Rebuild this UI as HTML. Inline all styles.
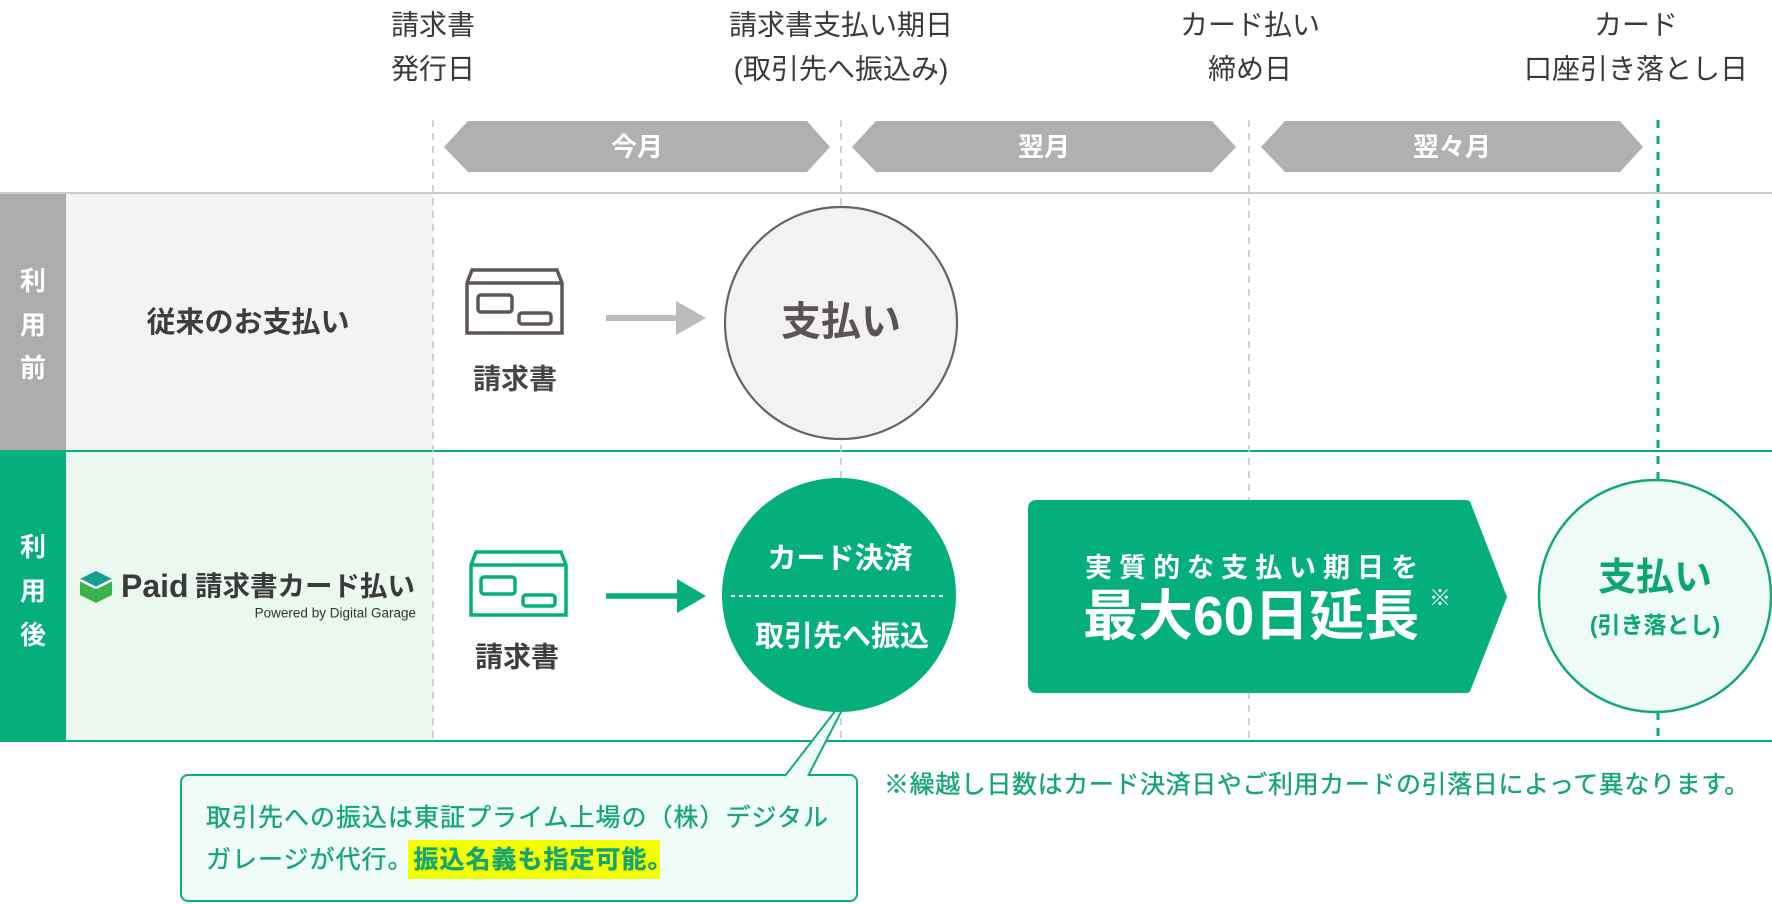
<!DOCTYPE html>
<html><head><meta charset="utf-8"><style>
html,body{margin:0;padding:0;background:#fff;}
svg{display:block;}
text{font-family:"Liberation Sans","Noto Sans CJK JP",sans-serif;}
</style></head><body>
<svg width="1772" height="904" viewBox="0 0 1772 904" xmlns="http://www.w3.org/2000/svg">
<!-- header labels -->
<g fill="#3a3a3a" font-size="28" text-anchor="middle" dominant-baseline="central">
<text x="433" y="25">請求書</text>
<text x="433" y="69">発行日</text>
<text x="841" y="25">請求書支払い期日</text>
<text x="841" y="69">(取引先へ振込み)</text>
<text x="1250" y="25">カード払い</text>
<text x="1250" y="69">締め日</text>
<text x="1636" y="25">カード</text>
<text x="1636" y="69">口座引き落とし日</text>
</g>
<!-- month hexagons -->
<g fill="#b0b0b0">
<polygon points="468,121 807,121 830,147 807,172 468,172 444,147"/>
<polygon points="876,121 1212,121 1236,147 1212,172 876,172 852,147"/>
<polygon points="1285,121 1620,121 1643,147 1620,172 1285,172 1261,147"/>
</g>
<g fill="#fff" font-size="26" font-weight="bold" text-anchor="middle" dominant-baseline="central">
<text x="637" y="147">今月</text>
<text x="1044" y="147">翌月</text>
<text x="1452" y="147">翌々月</text>
</g>
<!-- row backgrounds -->
<rect x="0" y="194" width="66" height="257" fill="#acacac"/>
<rect x="66" y="194" width="367" height="257" fill="#f3f3f3"/>
<rect x="0" y="452" width="66" height="289" fill="#05af7b"/>
<rect x="66" y="452" width="367" height="289" fill="#eaf8f0"/>
<!-- row lines -->
<line x1="0" y1="193" x2="1772" y2="193" stroke="#cccccc" stroke-width="2"/>
<line x1="0" y1="451" x2="1772" y2="451" stroke="#0cae7c" stroke-width="2"/>
<line x1="0" y1="741" x2="1772" y2="741" stroke="#0cae7c" stroke-width="2"/>
<!-- dashed verticals -->
<g stroke="#c6c6c6" stroke-width="1.6" stroke-dasharray="7 6">
<line x1="433" y1="120" x2="433" y2="740"/>
<line x1="841" y1="120" x2="841" y2="740"/>
<line x1="1249" y1="120" x2="1249" y2="740"/>
</g>
<line x1="1658" y1="120" x2="1658" y2="741" stroke="#0aae79" stroke-width="3" stroke-dasharray="8 8"/>
<!-- vertical labels -->
<g fill="#fff" font-size="26" font-weight="bold" text-anchor="middle" dominant-baseline="central">
<text x="33" y="281">利</text>
<text x="33" y="325">用</text>
<text x="33" y="368">前</text>
<text x="33" y="547">利</text>
<text x="33" y="591">用</text>
<text x="33" y="635">後</text>
</g>
<text x="248" y="323" fill="#3d3d3d" font-size="29" font-weight="bold" text-anchor="middle" dominant-baseline="central">従来のお支払い</text>
<!-- logo -->
<g>
<polygon points="96,571 112,579 112,595 96,603 80,595 80,579" fill="#3ab54a"/>
<polygon points="96,571 112,579 96,587 80,579" fill="#179f8c"/>
<polyline points="80,580 96,588 112,580" fill="none" stroke="#fff" stroke-width="2.5"/>
<line x1="96" y1="588" x2="96" y2="603" stroke="#2fa84a" stroke-width="1"/>
</g>
<text x="121" y="586" fill="#3a3a3a" font-size="32" font-weight="bold" dominant-baseline="central">Paid</text>
<text x="195" y="586" fill="#3a3a3a" font-size="27.5" font-weight="bold" dominant-baseline="central">請求書カード払い</text>
<text x="416" y="613" fill="#333" font-size="13.5" text-anchor="end" dominant-baseline="central">Powered by Digital Garage</text>
<!-- gray envelope -->
<g fill="none" stroke="#5e5655" stroke-width="3.5" stroke-linejoin="miter">
<path d="M472,270 H557 L562,283 V333 H467 V283 Z"/>
<line x1="467" y1="283" x2="562" y2="283"/>
<rect x="478" y="295" width="34" height="17" rx="3"/>
<rect x="519" y="313" width="32" height="11" rx="3"/>
</g>
<text x="515" y="379" fill="#4a4545" font-size="28" font-weight="bold" text-anchor="middle" dominant-baseline="central">請求書</text>
<!-- gray arrow -->
<line x1="606" y1="318" x2="680" y2="318" stroke="#bcbcbc" stroke-width="6"/>
<polygon points="676,301 706,318 676,335" fill="#bcbcbc"/>
<!-- gray circle -->
<circle cx="841" cy="323" r="116" fill="#f2f2f2" stroke="#6b6262" stroke-width="2.2"/>
<text x="841" y="322" fill="#5b5353" font-size="40" font-weight="bold" text-anchor="middle" dominant-baseline="central">支払い</text>
<!-- green envelope -->
<g fill="none" stroke="#05af7b" stroke-width="3.5">
<path d="M476,552 H561 L566,565 V615 H471 V565 Z"/>
<line x1="471" y1="565" x2="566" y2="565"/>
<rect x="481" y="577" width="34" height="17" rx="3"/>
<rect x="523" y="595" width="32" height="11" rx="3"/>
</g>
<text x="517" y="657" fill="#3d3d3d" font-size="28" font-weight="bold" text-anchor="middle" dominant-baseline="central">請求書</text>
<!-- green arrow -->
<line x1="606" y1="596" x2="680" y2="596" stroke="#05af7b" stroke-width="5.5"/>
<polygon points="677,579 706,596 677,613" fill="#05af7b"/>
<!-- callout -->
<rect x="181" y="775" width="676" height="126" rx="7" fill="#f0fcf6" stroke="#15ab79" stroke-width="2"/>
<polygon points="836,709 842,709 808,777 785,777" fill="#f0fcf6"/>
<line x1="836" y1="710" x2="785" y2="776" stroke="#15ab79" stroke-width="2"/>
<line x1="842" y1="710" x2="808" y2="776" stroke="#15ab79" stroke-width="2"/>
<!-- green circle -->
<circle cx="839" cy="595" r="117" fill="#05af7b"/>
<g fill="#fff" font-size="29" font-weight="bold" text-anchor="middle" dominant-baseline="central">
<text x="840" y="559">カード決済</text>
<text x="842" y="637">取引先へ振込</text>
</g>
<line x1="731" y1="596" x2="946" y2="596" stroke="#fff" stroke-width="2" stroke-dasharray="4 4"/>
<!-- big green arrow box -->
<path d="M1037,500 H1466 Q1470,500 1471,504 L1507,597 L1471,689 Q1470,693 1466,693 H1037 Q1028,693 1028,684 V509 Q1028,500 1037,500 Z" fill="#05af7b"/>
<text x="1085" y="568" fill="#fff" font-size="27" font-weight="bold" letter-spacing="7" dominant-baseline="central">実質的な支払い期日を</text>
<text x="1083" y="616" fill="#fff" font-size="55" font-weight="bold" dominant-baseline="central">最大60日延長</text>
<text x="1429" y="598" fill="#fff" font-size="22" dominant-baseline="central">※</text>
<!-- right circle -->
<circle cx="1655" cy="596" r="116" fill="#effcf5" stroke="#11a877" stroke-width="2.5"/>
<text x="1655" y="578" fill="#0aa673" font-size="38" font-weight="bold" text-anchor="middle" dominant-baseline="central">支払い</text>
<text x="1655" y="625" fill="#0aa673" font-size="23" font-weight="bold" text-anchor="middle" dominant-baseline="central">(引き落とし)</text>
<!-- callout text -->
<rect x="408" y="840" width="252" height="39" fill="#f4ff00"/>
<g fill="#14a574" stroke="#14a574" stroke-width="0.35" font-size="25" letter-spacing="1" dominant-baseline="central">
<text x="206" y="818">取引先への振込は東証プライム上場の（株）デジタル</text>
<text x="206" y="860">ガレージが代行。<tspan font-weight="bold">振込名義も指定可能。</tspan></text>
</g>
<!-- footnote -->
<text x="884" y="785" fill="#14a574" stroke="#14a574" stroke-width="0.35" font-size="25" letter-spacing="0.6" dominant-baseline="central">※繰越し日数はカード決済日やご利用カードの引落日によって異なります。</text>
</svg>
</body></html>
